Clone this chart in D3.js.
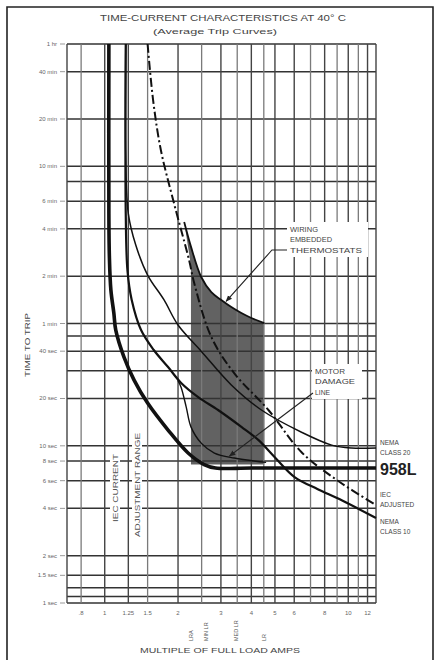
<!DOCTYPE html>
<html>
<head>
<meta charset="utf-8">
<script src="https://cdn.jsdelivr.net/npm/d3@7"></script>
<style>
  body { margin: 0; background: #fff; }
  svg { display: block; font-family: "Liberation Sans", Arial, sans-serif; }
</style>
</head>
<body>
<svg id="chart" width="436" height="660"></svg>
<script>
// x = multiple of full load amps, y = time to trip in seconds
const xTickValues = [0.8, 1, 1.25, 1.5, 2, 3, 4, 5, 6, 8, 10, 12];
const xTickLabels = ['.8', '1', '1.25', '1.5', '2', '3', '4', '5', '6', '8', '10', '12'];
const xGridMajor = [0.7, 1, 1.25, 2, 3, 4, 5, 6, 8, 10, 12, 13];
const xGridMinor = [0.8, 1.5, 2.5, 3.5, 4.5, 7, 9, 11];
const yGridValues = [3600, 2400, 1200, 600, 480, 360, 240, 120, 60, 50, 40, 30, 20, 10, 8, 6, 4, 2, 1.5, 1.25, 1.1, 1];
const yTickValues = [3600, 2400, 1200, 600, 360, 240, 120, 60, 40, 20, 10, 8, 6, 4, 2, 1.5, 1];
const yTickLabels = ['1 hr', '40 min', '20 min', '10 min', '6 min', '4 min', '2 min', '1 min',
  '40 sec', '20 sec', '10 sec', '8 sec', '6 sec', '4 sec', '2 sec', '1.5 sec', '1 sec'];

const curve958L = [[1.04, 3600], [1.04, 300], [1.045, 160], [1.06, 98], [1.09, 70], [1.11, 54.5],
  [1.2, 36.7], [1.32, 26.2], [1.5, 18.7], [1.82, 12.6], [2.2, 9.0], [2.56, 7.6], [2.85, 7.22],
  [4, 7.22], [13, 7.22]];
const nemaClass10 = [[1.22, 3600], [1.22, 300], [1.24, 130], [1.29, 85], [1.41, 54.5], [1.59, 40.7],
  [1.82, 31.7], [2.06, 25.1], [2.42, 20.4], [2.92, 16.9], [3.64, 13.2], [4.27, 10.9], [4.98, 8.5],
  [6.02, 6.33], [7.5, 5.3], [9.4, 4.5], [13, 3.47]];
const nemaClass20 = [[1.22, 3600], [1.22, 700], [1.25, 300], [1.34, 190], [1.5, 122], [1.75, 85],
  [2.0, 58.7], [2.49, 40], [3.31, 24.4], [4.4, 16.9], [6.43, 12.2], [8.55, 10.1], [10.3, 9.68], [13, 9.68]];
const iecAdjusted = [[1.5, 3600], [1.58, 1584], [1.7, 762], [1.91, 366], [2.22, 152], [2.33, 108.5],
  [2.74, 49.2], [3.4, 29], [4.7, 16.9], [6.43, 9.1], [8.97, 6.06], [13, 4.2]];
const motorDamage = [[2.0, 26], [2.06, 23.5], [2.16, 17.7], [2.26, 13.2], [2.49, 10.4], [2.82, 9.0],
  [3.4, 8.36], [4.6, 7.85]];
const thermostatTop = [[2.12, 265], [2.26, 185], [2.49, 118.6], [2.74, 95], [3.01, 84.6], [3.31, 76.3],
  [3.64, 69.9], [4.0, 65], [4.52, 60.4]];
const thermostatBase = [[4.52, 7.6], [2.26, 7.6], [2.26, 140]];
const subLabelX = [2.26, 2.6, 3.45, 4.52];
const subLabels = ['LRA', 'MIN LR', 'MED LR', 'LR'];

const plot = { left: 67, right: 376, top: 44, bottom: 603 };

let svg = d3.select('#chart');

let x = d3.scaleLog().domain([0.7, 13]).range([plot.left, plot.right]);
let y = d3.scaleLog().domain([1, 3600]).range([plot.bottom, plot.top]);

let line = d3.line()
    .x((d) => { return x(d[0]); })
    .y((d) => { return y(d[1]); })
    .curve(d3.curveCatmullRom.alpha(0.5));

// arrowhead for the call-out pointers
svg.append('defs')
    .append('marker')
    .attr('id', 'arrow')
    .attr('viewBox', '0 0 10 10')
    .attr('refX', 9).attr('refY', 5)
    .attr('markerWidth', 6).attr('markerHeight', 6)
    .attr('orient', 'auto')
    .append('path')
    .attr('d', 'M0,1L10,5L0,9Z')
    .attr('fill', '#222');

// page frame
svg.append('path')
    .attr('d', 'M7,662V7H433V662')
    .attr('fill', 'none')
    .attr('stroke', '#222')
    .attr('stroke-width', 1.6);

svg.append('text')
    .attr('x', 223).attr('y', 21)
    .attr('text-anchor', 'middle')
    .attr('font-size', 8.5)
    .attr('fill', '#444')
    .attr('textLength', 246).attr('lengthAdjust', 'spacingAndGlyphs')
    .text('TIME-CURRENT CHARACTERISTICS AT 40° C');

svg.append('text')
    .attr('x', 215).attr('y', 34)
    .attr('text-anchor', 'middle')
    .attr('font-size', 8)
    .attr('fill', '#444')
    .attr('textLength', 124).attr('lengthAdjust', 'spacingAndGlyphs')
    .text('(Average Trip Curves)');

// shaded band of embedded thermostats
svg.append('path')
    .attr('d', line(thermostatTop) + thermostatBase.map((d) => 'L' + x(d[0]) + ',' + y(d[1])).join('') + 'Z')
    .attr('fill', '#626262');

// grid
let grid = svg.append('g').classed('grid', true);
grid.selectAll('line.h')
    .data(yGridValues)
    .enter()
    .append('line')
    .attr('x1', plot.left).attr('x2', plot.right)
    .attr('y1', (d) => y(d)).attr('y2', (d) => y(d))
    .attr('stroke', '#333')
    .attr('stroke-width', 1.5);
grid.selectAll('line.vmaj')
    .data(xGridMajor)
    .enter()
    .append('line')
    .attr('x1', (d) => x(d)).attr('x2', (d) => x(d))
    .attr('y1', plot.top).attr('y2', plot.bottom)
    .attr('stroke', '#444')
    .attr('stroke-width', 1.4);
grid.selectAll('line.vmin')
    .data(xGridMinor)
    .enter()
    .append('line')
    .attr('x1', (d) => x(d)).attr('x2', (d) => x(d))
    .attr('y1', plot.top).attr('y2', plot.bottom)
    .attr('stroke', '#7a7a7a')
    .attr('stroke-width', 1.3);

// y ticks
let yAxis = svg.append('g').attr('font-size', 6).attr('fill', '#666');
yAxis.selectAll('text')
    .data(yTickValues)
    .enter()
    .append('text')
    .attr('x', 57)
    .attr('y', (d) => y(d) + 2)
    .attr('text-anchor', 'end')
    .text((d, i) => yTickLabels[i]);
yAxis.selectAll('line')
    .data(yTickValues)
    .enter()
    .append('line')
    .attr('x1', 60).attr('x2', 65)
    .attr('y1', (d) => y(d)).attr('y2', (d) => y(d))
    .attr('stroke', '#999');

// x ticks
let xAxis = svg.append('g').attr('font-size', 6).attr('fill', '#666');
xAxis.selectAll('text')
    .data(xTickValues)
    .enter()
    .append('text')
    .attr('x', (d) => x(d))
    .attr('y', 615)
    .attr('text-anchor', 'middle')
    .text((d, i) => xTickLabels[i]);

xAxis.selectAll('text.sub')
    .data(subLabelX)
    .enter()
    .append('text')
    .attr('transform', (d) => 'translate(' + (x(d) + 2) + ',641) rotate(-90)')
    .attr('font-size', 5.5)
    .attr('fill', '#555')
    .text((d, i) => subLabels[i]);

svg.append('text')
    .attr('x', 220).attr('y', 653)
    .attr('text-anchor', 'middle')
    .attr('font-size', 7)
    .attr('fill', '#444')
    .attr('textLength', 160).attr('lengthAdjust', 'spacingAndGlyphs')
    .text('MULTIPLE OF FULL LOAD AMPS');

svg.append('text')
    .attr('transform', 'translate(30,345) rotate(-90)')
    .attr('text-anchor', 'middle')
    .attr('font-size', 7)
    .attr('fill', '#444')
    .attr('textLength', 64).attr('lengthAdjust', 'spacingAndGlyphs')
    .text('TIME TO TRIP');

// vertical notes with white backing over the grid
const vNotes = [
  { text: 'IEC CURRENT', cx: 115, cy: 488, len: 68 },
  { text: 'ADJUSTMENT RANGE', cx: 137, cy: 485, len: 104 }
];
vNotes.forEach((n) => {
  svg.append('rect')
      .attr('x', n.cx - 5).attr('y', n.cy - n.len / 2 - 6)
      .attr('width', 10).attr('height', n.len + 12)
      .attr('fill', '#fff');
  svg.append('text')
      .attr('transform', 'translate(' + (n.cx + 2.5) + ',' + n.cy + ') rotate(-90)')
      .attr('text-anchor', 'middle')
      .attr('font-size', 7)
      .attr('fill', '#555')
      .attr('textLength', n.len).attr('lengthAdjust', 'spacingAndGlyphs')
      .text(n.text);
});

// call-out labels
const callouts = [
  { lines: ['WIRING', 'EMBEDDED', 'THERMOSTATS'], lens: [28, 42, 72], x: 290, y: 232, box: [287, 222, 81, 35] },
  { lines: ['MOTOR', 'DAMAGE', 'LINE'], lens: [30, 40, 15], x: 315, y: 374, box: [312, 364, 50, 35] }
];
callouts.forEach((c) => {
  svg.append('rect')
      .attr('x', c.box[0]).attr('y', c.box[1])
      .attr('width', c.box[2]).attr('height', c.box[3])
      .attr('fill', '#fff');
  c.lines.forEach((t, i) => {
    svg.append('text')
        .attr('x', c.x).attr('y', c.y + i * 10.3)
        .attr('font-size', 7)
        .attr('fill', '#444')
        .attr('textLength', c.lens[i]).attr('lengthAdjust', 'spacingAndGlyphs')
        .text(t);
  });
});

// curves
const curves = [
  { data: nemaClass20, width: 1.5, dash: null },
  { data: nemaClass10, width: 2.2, dash: null },
  { data: iecAdjusted, width: 2, dash: '9,3,2,3' },
  { data: motorDamage, width: 1.4, dash: null },
  { data: thermostatTop, width: 1.8, dash: null },
  { data: curve958L, width: 3.6, dash: null }
];
svg.append('g')
    .selectAll('path')
    .data(curves)
    .enter()
    .append('path')
    .attr('d', (d) => line(d.data))
    .attr('fill', 'none')
    .attr('stroke', '#111')
    .attr('stroke-width', (d) => d.width)
    .attr('stroke-dasharray', (d) => d.dash);

// pointers
svg.append('path')
    .attr('d', 'M287,250H272L' + x(3.15) + ',' + y(83))
    .attr('fill', 'none')
    .attr('stroke', '#222')
    .attr('stroke-width', 1.1)
    .attr('marker-end', 'url(#arrow)');
svg.append('path')
    .attr('d', 'M313,393L' + x(3.25) + ',' + y(8.6))
    .attr('fill', 'none')
    .attr('stroke', '#222')
    .attr('stroke-width', 1.1)
    .attr('marker-end', 'url(#arrow)');

// curve names at the right edge
const rightLabels = [
  { lines: ['NEMA', 'CLASS 20'], t: 9.68, dy: -3 },
  { lines: ['IEC', 'ADJUSTED'], t: 4.2, dy: -8 },
  { lines: ['NEMA', 'CLASS 10'], t: 3.47, dy: 6 }
];
rightLabels.forEach((r) => {
  r.lines.forEach((t, i) => {
    svg.append('text')
        .attr('x', 380)
        .attr('y', y(r.t) + r.dy + i * 10)
        .attr('font-size', 6.5)
        .attr('fill', '#444')
        .text(t);
  });
});
svg.append('text')
    .attr('x', 380)
    .attr('y', y(7.22) + 7)
    .attr('font-size', 16)
    .attr('font-weight', 'bold')
    .attr('fill', '#222')
    .text('958L');
</script>
</body>
</html>
